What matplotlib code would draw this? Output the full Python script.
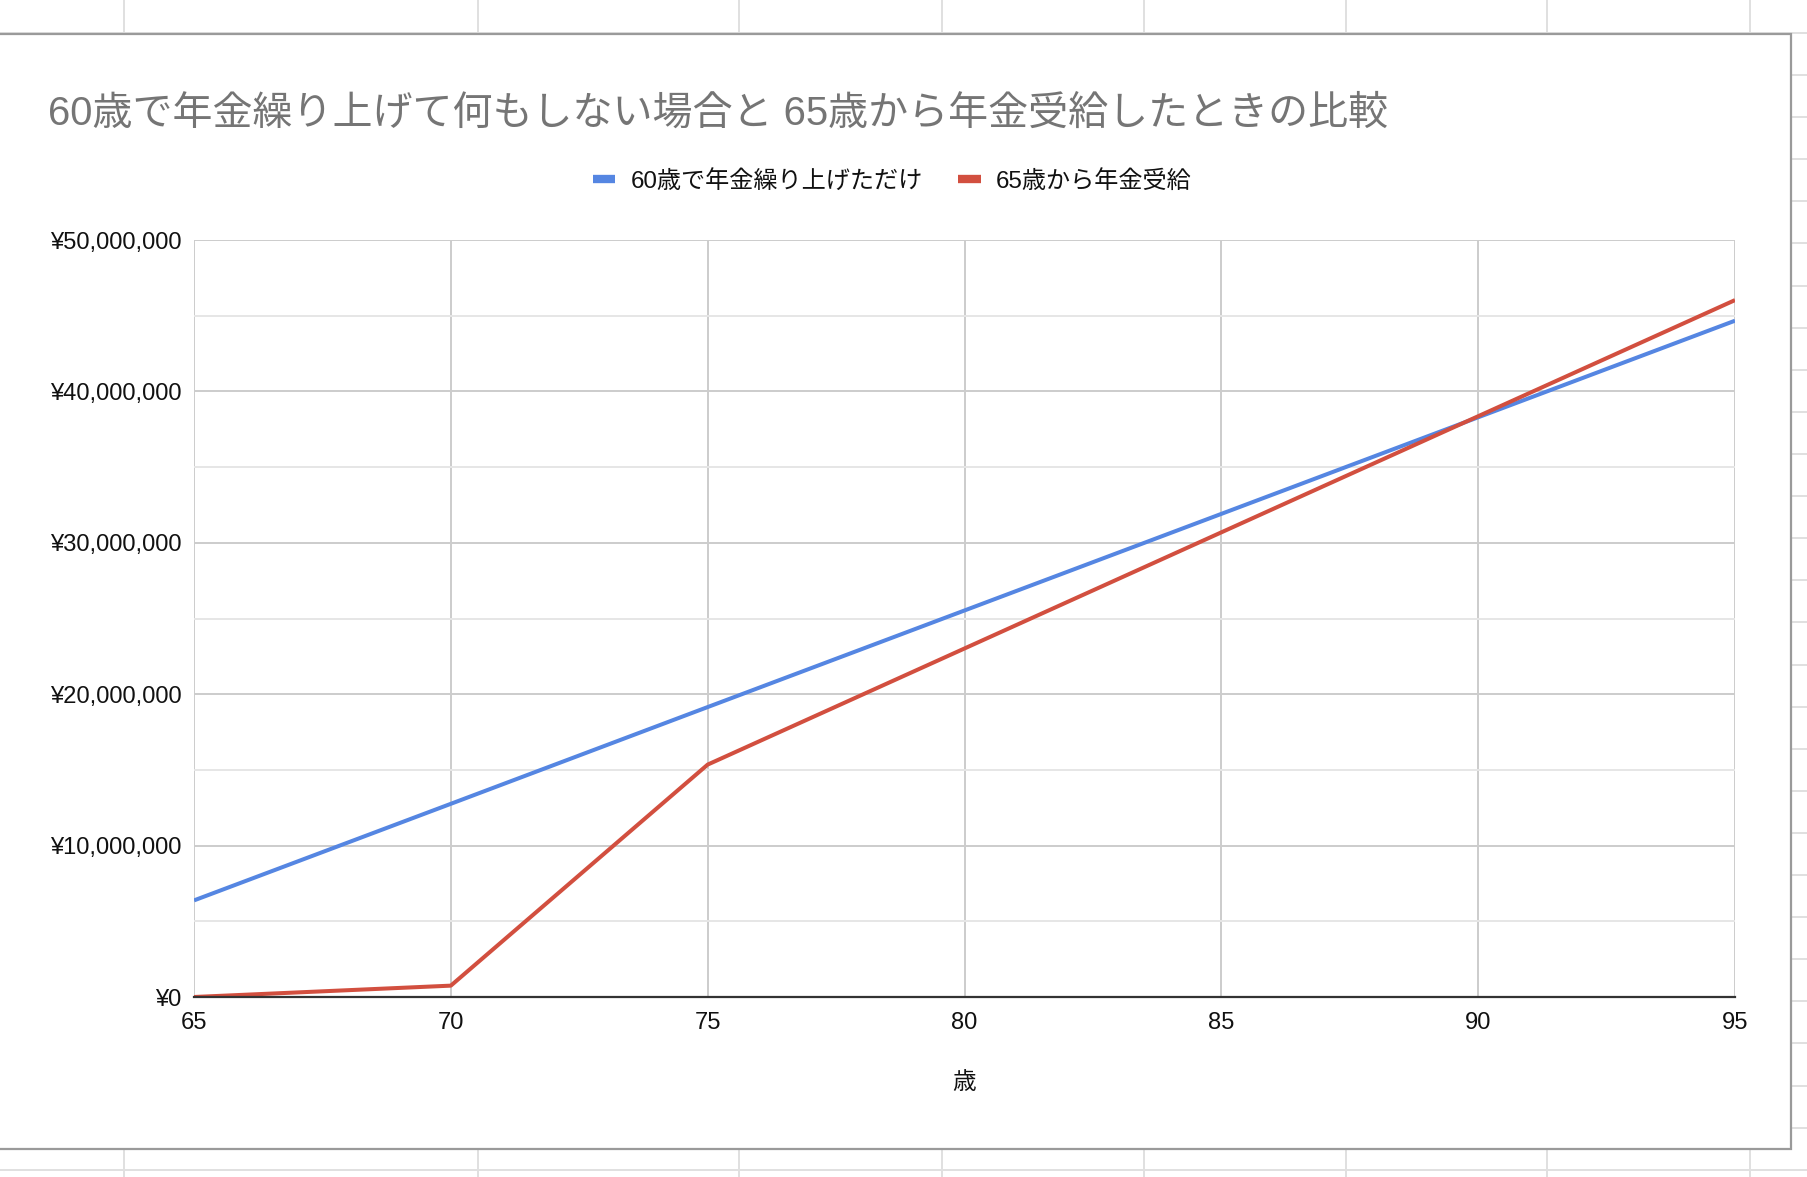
import matplotlib
matplotlib.use("Agg")
import matplotlib.pyplot as plt
from matplotlib.lines import Line2D
from matplotlib.patches import Rectangle
from matplotlib.ticker import MultipleLocator, FuncFormatter

plt.rcParams['font.family'] = ['Liberation Sans', 'Noto Sans CJK JP', 'DejaVu Sans']

# ---- data ----
ages = [65, 70, 75, 80, 85, 90, 95]
early_60 = [6380000, 12760000, 19150000, 25530000, 31910000, 38290000, 44670000]
from_65 = [0, 750000, 15350000, 23020000, 30690000, 38360000, 46030000]
series_names = ["60歳で年金繰り上げただけ", "65歳から年金受給"]
title = "60歳で年金繰り上げて何もしない場合と 65歳から年金受給したときの比較"
x_label = "歳"

W, H = 1808, 1177
fig = plt.figure(figsize=(W / 100, H / 100), dpi=100)

# ---- spreadsheet background ----
bg = fig.add_axes([0, 0, 1, 1])
bg.set_xlim(0, W)
bg.set_ylim(H, 0)
bg.axis('off')
grid_c = '#e0e0e0'
for x in [124.5, 478.5, 739, 942, 1144, 1346, 1547, 1750]:
    bg.add_line(Line2D([x, x], [0, H], color=grid_c, lw=1.4))
y = 33
while y < H:
    bg.add_line(Line2D([0, W], [y, y], color=grid_c, lw=1.4))
    y += 42.1
# chart card
bg.add_patch(Rectangle((-5, 34), 1796, 1115, facecolor='white',
                       edgecolor='#9a9a9a', lw=1.6, zorder=5))

# ---- chart ----
left, right, top, bottom = 194, 1735, 240, 997
ax = fig.add_axes([left / W, 1 - bottom / H, (right - left) / W, (bottom - top) / H])
ax.set_zorder(10)
ax.patch.set_alpha(0)

ax.plot(ages, early_60, color='#5586e2', lw=2.9, label=series_names[0],
        solid_capstyle='butt', zorder=3)
ax.plot(ages, from_65, color='#d24f3f', lw=2.9, label=series_names[1],
        solid_capstyle='butt', zorder=4)

ax.set_xlim(65, 95)
ax.set_ylim(0, 50000000)
ax.xaxis.set_major_locator(MultipleLocator(5))
ax.yaxis.set_major_locator(MultipleLocator(10000000))
ax.yaxis.set_minor_locator(MultipleLocator(5000000))
ax.yaxis.set_major_formatter(FuncFormatter(lambda v, p: "¥{:,.0f}".format(v)))

ax.grid(True, which='major', color='#cccccc', lw=1.4, zorder=0)
ax.grid(True, which='minor', axis='y', color='#e6e6e6', lw=1.4, zorder=0)
ax.axhline(0, color='#333333', lw=1.6, zorder=5, clip_on=False)
for s in ax.spines.values():
    s.set_visible(False)
ax.tick_params(which='both', length=0)
ax.tick_params(axis='y', labelsize=17.1, pad=9, colors='#111111')
ax.tick_params(axis='x', labelsize=17.1, pad=10.5, colors='#111111')

ax.set_xlabel(x_label, fontsize=17, labelpad=28, color='#111111')

fig.text(48 / W, 1 - 114 / H, title, fontsize=28.8, color='#757575',
         ha='left', va='center')

leg = fig.legend(loc='center', bbox_to_anchor=(892 / W, 1 - 181 / H), ncol=2,
                 frameon=False, fontsize=17.4, handlelength=0.95, handletextpad=0.62,
                 columnspacing=1.45)
for h in leg.get_lines():
    h.set_linewidth(6)
for t in leg.get_texts():
    t.set_color('#111111')

fig.savefig('out.png', dpi=100)
